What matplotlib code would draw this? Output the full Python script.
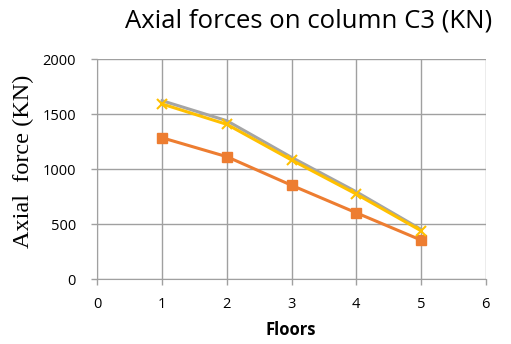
import matplotlib
matplotlib.use("Agg")
import matplotlib.pyplot as plt

floors = [1, 2, 3, 4, 5]
series_gray = [1624, 1442, 1109, 796, 455]
series_yellow = [1594, 1409, 1085, 775, 442]
series_orange = [1287, 1115, 855, 605, 357]
xticks = [0, 1, 2, 3, 4, 5, 6]
yticks = [0, 500, 1000, 1500, 2000]

fig = plt.figure(figsize=(5.11, 3.44), dpi=100)
ax = fig.add_axes([0.1905, 0.188, 0.76, 0.6395])

ax.plot(floors, series_gray, color="#a5a5a5", lw=2.2, zorder=3)
ax.plot(floors, series_orange, color="#ed7d31", lw=2.2, marker="s", ms=7, zorder=4)
ax.plot(floors, series_yellow, color="#ffc000", lw=2.2, marker="x", ms=7, mew=1.5, zorder=5)

ax.set_xlim(0, 6)
ax.set_ylim(0, 2000)
ax.set_xticks(xticks)
ax.set_yticks(yticks)
ax.grid(True, color="#a0a0a0", lw=1.0)
ax.set_axisbelow(True)
for s in ["top", "right"]:
    ax.spines[s].set_visible(False)
for s in ["left", "bottom"]:
    ax.spines[s].set_color("#a0a0a0")
ax.tick_params(axis="both", colors="#a0a0a0", length=4.5, width=1, labelcolor="black",
               labelsize=10.5)
for lab in ax.get_xticklabels() + ax.get_yticklabels():
    lab.set_family("Open Sans")
ax.tick_params(axis="x", pad=8.5)
ax.tick_params(axis="y", pad=11)

fig.text(0.5695, 1 - 335 / 344, "Floors", fontsize=12, fontweight="bold", family="Open Sans",
         ha="center", va="baseline")
fig.text(23 / 511, 1 - 161 / 344, "Axial  force (KN)", fontsize=17.5, family="Liberation Serif",
         rotation=90, ha="center", va="center")
fig.text(0.603, 1 - 27.7 / 344, "Axial forces on column C3 (KN)", fontsize=18.5, family="Open Sans",
         ha="center", va="baseline")

fig.savefig("out.png", dpi=100)
